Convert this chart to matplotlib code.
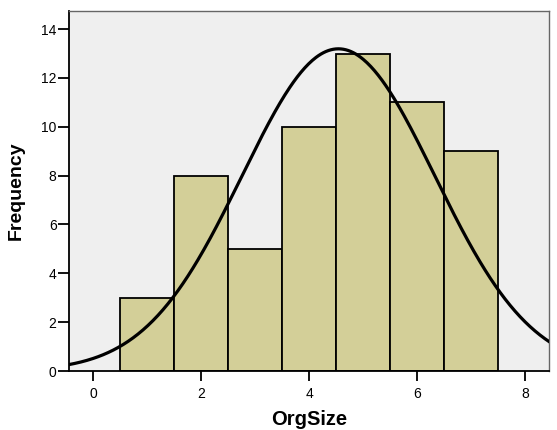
import numpy as np
import matplotlib
matplotlib.use("Agg")
import matplotlib.pyplot as plt

plt.rcParams['font.family'] = ['Liberation Sans', 'DejaVu Sans']

# OrgSize histogram, bins centred on the integers 1..7
org_size = [1, 2, 3, 4, 5, 6, 7]
frequency = [3, 8, 5, 10, 13, 11, 9]
x_ticks = [0, 2, 4, 6, 8]
y_ticks = [0, 2, 4, 6, 8, 10, 12, 14]

vals = np.repeat(org_size, frequency)
n = len(vals)
mean = vals.mean()
sd = vals.std(ddof=1)

fig = plt.figure(figsize=(5.57, 4.30), dpi=100)
ax = fig.add_axes([0.1239, 0.1372, 0.8617, 0.8372])
ax.set_facecolor('#efefef')

ax.bar(org_size, frequency, width=1.0, color='#d3cf98', edgecolor='black',
       linewidth=1.3, zorder=2)

# normal curve scaled to counts (bin width 1)
xs = np.linspace(-0.6, 8.6, 400)
ys = n / (sd * np.sqrt(2 * np.pi)) * np.exp(-0.5 * ((xs - mean) / sd) ** 2)
ax.plot(xs, ys, color='black', linewidth=2.3, zorder=3)

ax.set_xlim(-0.45, 8.445)
ax.set_ylim(0, 14.74)
ax.set_xticks(x_ticks)
ax.set_yticks(y_ticks)
ax.tick_params(direction='out', width=1.3, labelsize=10)
ax.tick_params(axis='x', length=7.5, pad=4)
ax.tick_params(axis='y', length=8, pad=1)

for s in ['left', 'bottom']:
    ax.spines[s].set_linewidth(1.3)
    ax.spines[s].set_color('black')
for s in ['top', 'right']:
    ax.spines[s].set_linewidth(1.0)
    ax.spines[s].set_color('#666666')

ax.set_xlabel('OrgSize', fontsize=14.5, fontweight='bold', va='center')
ax.set_ylabel('Frequency', fontsize=14, fontweight='bold', va='center')
ax.xaxis.set_label_coords(0.5, -0.136)
ax.yaxis.set_label_coords(-0.110, 0.5)

fig.savefig('out.png', dpi=100)
